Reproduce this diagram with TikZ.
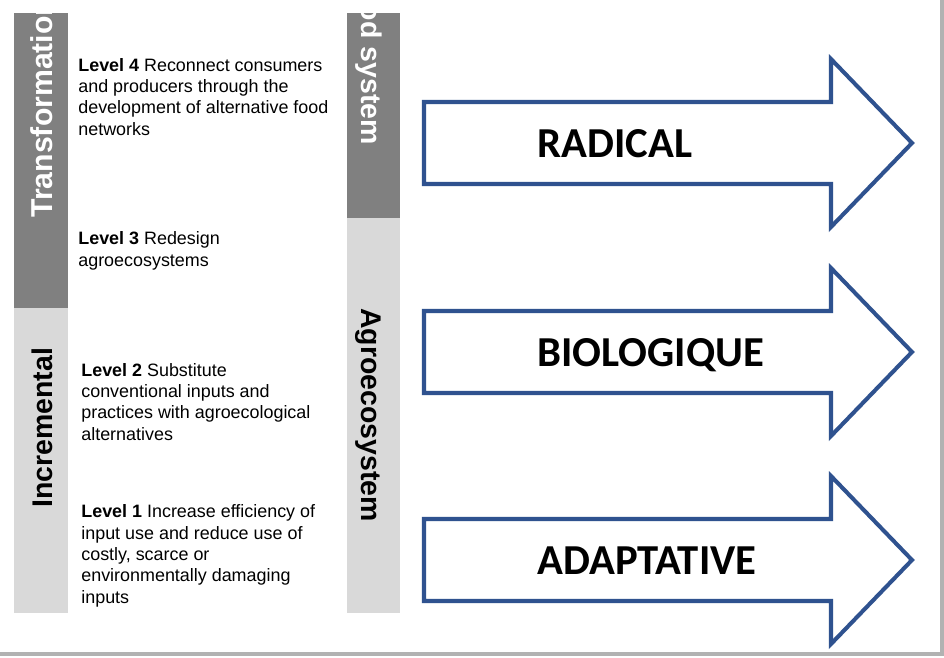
\documentclass[tikz,border=0pt]{standalone}
\usepackage{fontspec}
\setmainfont{Liberation Sans}
\newfontfamily\calibri{Carlito}
\definecolor{arrowblue}{HTML}{2F528F}
\definecolor{bardark}{HTML}{808080}
\definecolor{barlight}{HTML}{D9D9D9}
\tikzset{
  bartext/.style={font=\fontsize{16.2}{18}\selectfont\bfseries, inner sep=0pt},
  leveltext/.style={font=\fontsize{10.2}{12.1}\selectfont, align=left, inner sep=0pt, anchor=base west},
  bigarrow/.style={draw=arrowblue, line width=2.3pt, fill=white, line join=miter},
  arrowlabel/.style={font=\calibri\fontsize{24.3}{28}\selectfont\bfseries, inner sep=0pt, anchor=base west}
}

\begin{document}
\begin{tikzpicture}[x=0.02cm, y=-0.02cm]
\useasboundingbox (0,0) rectangle (944,657);
\fill[white] (0,0) rectangle (944,657);
% frame shadow
\fill[black!30] (940,0) rectangle (944,656);
\fill[black!30] (0,652) rectangle (944,656);

% left bar
\fill[bardark] (14,13) rectangle (68,308);
\fill[barlight] (14,308) rectangle (68,613);
\begin{scope}
  \clip (14,13) rectangle (68,308);
  \node[bartext, text=white, rotate=90, anchor=base west, font=\fontsize{17.2}{18}\selectfont\bfseries] (transf) at (52,218) {Transformation};
\end{scope}
\node[bartext, rotate=90, anchor=base west] (incr) at (52,508) {Incremental};

% right bar
\fill[bardark] (347,13) rectangle (400,218);
\fill[barlight] (347,218) rectangle (400,613);
\begin{scope}
  \clip (347,13) rectangle (400,218);
  \node[bartext, text=white, rotate=-90, anchor=base east] (food) at (361,145) {Food system};
\end{scope}
\node[bartext, rotate=-90, anchor=base west] (agro) at (361,308) {Agroecosystem};

% levels (base = last line)
\node[leveltext] (lvl4) at (78,135) {\textbf{Level 4} Reconnect consumers\\and producers through the\\development of alternative food\\networks};
\node[leveltext] (lvl3) at (78,266) {\textbf{Level 3} Redesign\\agroecosystems};
\node[leveltext] (lvl2) at (81,440) {\textbf{Level 2} Substitute\\conventional inputs and\\practices with agroecological\\alternatives};
\node[leveltext] (lvl1) at (81,603) {\textbf{Level 1} Increase efficiency of\\input use and reduce use of\\costly, scarce or\\environmentally damaging\\inputs};

% arrows
\foreach \yc/\lab/\nm in {143/RADICAL/radical, 352/BIOLOGIQUE/bio, 560/ADAPTATIVE/adapt} {
  \draw[bigarrow] (424,\yc-41) -- (831,\yc-41) -- (831,\yc-84) -- (912,\yc)
    -- (831,\yc+84) -- (831,\yc+41) -- (424,\yc+41) -- cycle;
  \node[arrowlabel] (\nm) at (537,\yc+14.5) {\lab};
}
\end{tikzpicture}
\end{document}
